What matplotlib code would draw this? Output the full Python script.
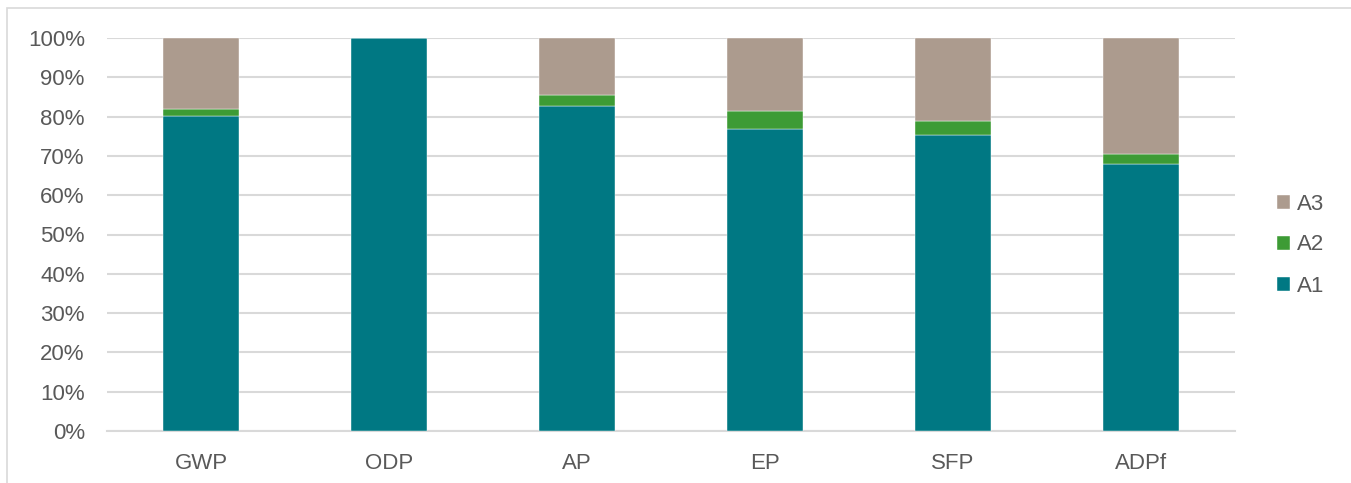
import matplotlib.pyplot as plt
from matplotlib.patches import Rectangle
from matplotlib.ticker import PercentFormatter
import numpy as np

categories = ["GWP", "ODP", "AP", "EP", "SFP", "ADPf"]
a1 = [80.2, 99.9, 82.6, 76.8, 75.2, 67.9]
a2 = [1.7, 0.05, 2.9, 4.7, 3.7, 2.5]
a3 = [100 - x - y for x, y in zip(a1, a2)]

teal = '#007883'
green = '#3D9B35'
tan = '#AC9B8E'
grey_text = '#595959'

plt.rcParams['font.family'] = ['Liberation Sans', 'DejaVu Sans']

fig = plt.figure(figsize=(13.51, 4.83), dpi=100)
# light frame round the chart, cut off at the right and bottom as in the reference
fig.patches.append(Rectangle((7 / 1351, -0.05), 1.2, 1 - 8 / 483 + 0.05,
                             transform=fig.transFigure, fill=False,
                             edgecolor='#D9D9D9', linewidth=1.2))
ax = fig.add_axes([107 / 1351, 1 - 431 / 483, (1235 - 107) / 1351, (431 - 38) / 483])

x = np.arange(len(categories))
w = 0.4
b1 = ax.bar(x, a1, w, color=teal, edgecolor='white', linewidth=0.3, label='A1', zorder=3)
b2 = ax.bar(x, a2, w, bottom=a1, color=green, edgecolor='white', linewidth=0.3, label='A2', zorder=3)
b3 = ax.bar(x, a3, w, bottom=np.array(a1) + np.array(a2), color=tan, edgecolor='white',
            linewidth=0.3, label='A3', zorder=3)

ax.set_xlim(-0.5, len(categories) - 0.5)
ax.set_ylim(0, 100)
ax.set_yticks(range(0, 101, 10))
ax.yaxis.set_major_formatter(PercentFormatter(decimals=0))
ax.set_xticks(x)
ax.set_xticklabels(categories)
ax.grid(axis='y', color='#D9D9D9', linewidth=1.5, zorder=0)
for s in ['top', 'right', 'left']:
    ax.spines[s].set_visible(False)
ax.spines['bottom'].set_color('#D9D9D9')
ax.spines['bottom'].set_linewidth(1.5)
ax.tick_params(axis='both', length=0, labelsize=16, colors=grey_text)
ax.tick_params(axis='x', pad=16)
ax.tick_params(axis='y', pad=16)

handles = [b3, b2, b1]
leg = fig.legend(handles, ['A3', 'A2', 'A1'], loc='center left',
                 bbox_to_anchor=(1257 / 1351, 1 - 245 / 483), frameon=False,
                 fontsize=16, handlelength=0.6, handleheight=0.6, handletextpad=0.3,
                 labelspacing=0.9, labelcolor=grey_text)

fig.savefig('out.png', dpi=100)
